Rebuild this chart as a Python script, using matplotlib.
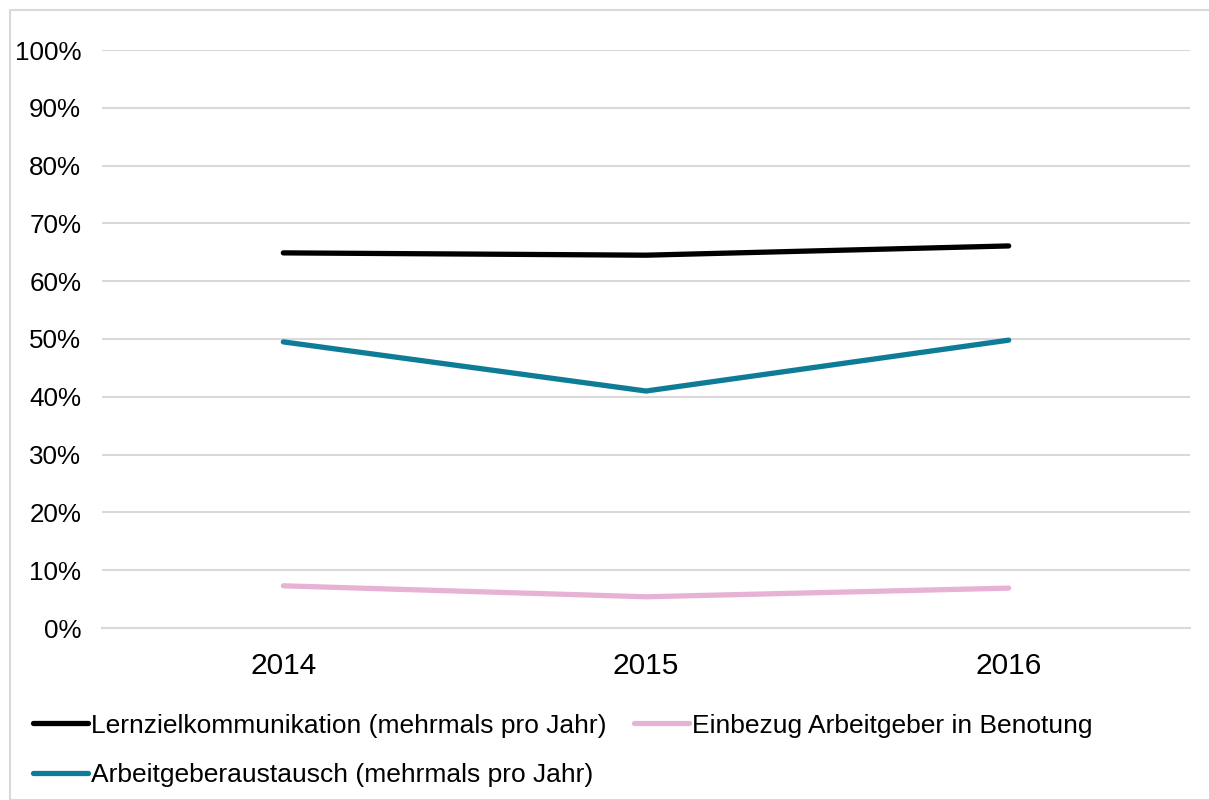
import matplotlib
matplotlib.use("Agg")
import matplotlib.pyplot as plt
from matplotlib.patches import Rectangle
from matplotlib.ticker import PercentFormatter

years = ["2014", "2015", "2016"]
lernziel = [0.649, 0.645, 0.661]
arbeitgeber = [0.495, 0.410, 0.498]
einbezug = [0.073, 0.054, 0.069]
series_names = ["Lernzielkommunikation (mehrmals pro Jahr)",
                "Arbeitgeberaustausch (mehrmals pro Jahr)",
                "Einbezug Arbeitgeber in Benotung"]
colors = ["#000000", "#0F7C97", "#E8B2D4"]
yticks = [i / 10 for i in range(11)]

plt.rcParams['font.family'] = ['Liberation Sans', 'DejaVu Sans']
fig = plt.figure(figsize=(12.09, 8.0), dpi=100)
ax = fig.add_axes([102 / 1209, 1 - 628 / 800, (1190 - 102) / 1209, (628 - 50) / 800])

x = list(range(len(years)))
lines = []
for vals, c, name in zip([lernziel, arbeitgeber, einbezug], colors, series_names):
    l, = ax.plot(x, vals, color=c, lw=3.8, solid_capstyle='round', label=name, zorder=3)
    lines.append(l)

ax.set_xlim(-0.5, 2.5)
ax.set_ylim(0, 1)
ax.set_yticks(yticks)
ax.yaxis.set_major_formatter(PercentFormatter(1.0, decimals=0))
ax.set_xticks(x)
ax.set_xticklabels(years)
ax.tick_params(axis='both', length=0, colors='#000000')
ax.tick_params(axis='y', pad=15, labelsize=18.7)
ax.tick_params(axis='x', pad=17, labelsize=21.5)
ax.grid(axis='y', color='#D9D9D9', lw=1.5)
ax.set_axisbelow(True)
for s in ['top', 'right', 'left']:
    ax.spines[s].set_visible(False)
ax.spines['bottom'].set_color('#D9D9D9')
ax.spines['bottom'].set_linewidth(1.5)

leg = fig.legend(handles=lines, labels=series_names, ncol=2, loc='upper left',
                 bbox_to_anchor=(22 / 1209, 1 - 703 / 800), frameon=False,
                 fontsize=19, handlelength=2.1, handletextpad=0.1,
                 columnspacing=1.05, labelspacing=0.97, borderaxespad=0)

fig.patches.append(Rectangle((10 / 1209, 0), 1.0, 1 - 10 / 800, transform=fig.transFigure,
                             fill=False, edgecolor='#D9D9D9', lw=1.5))

fig.savefig("out.png", dpi=100)
